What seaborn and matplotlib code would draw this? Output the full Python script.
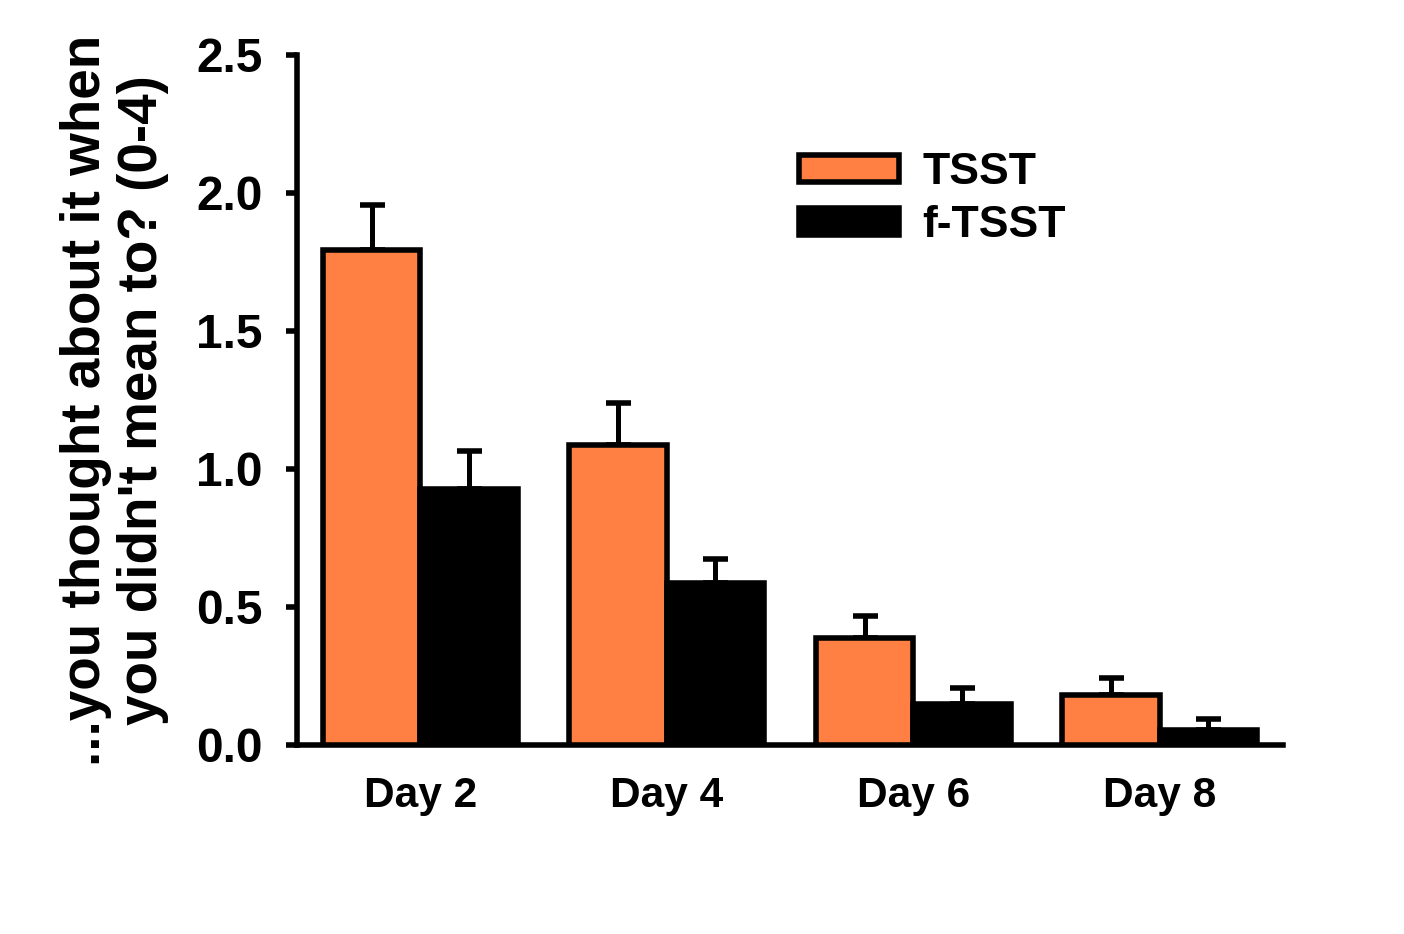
import matplotlib
matplotlib.use("Agg")
import matplotlib.pyplot as plt
import seaborn as sns
import pandas as pd
import numpy as np
from matplotlib.patches import Patch

days = ["Day 2", "Day 4", "Day 6", "Day 8"]
groups = ["TSST", "f-TSST"]
tsst_mean = [1.793, 1.087, 0.388, 0.181]
tsst_sem = [0.164, 0.152, 0.079, 0.062]
ftsst_mean = [0.928, 0.587, 0.149, 0.054]
ftsst_sem = [0.137, 0.087, 0.058, 0.040]
yticks = [0.0, 0.5, 1.0, 1.5, 2.0, 2.5]
ylabel = "...you thought about it when\nyou didn't mean to? (0-4)"

df = pd.DataFrame({
    "day": days * 2,
    "group": [groups[0]] * 4 + [groups[1]] * 4,
    "value": tsst_mean + ftsst_mean,
    "sem": tsst_sem + ftsst_sem,
})

sns.set_theme(style="white")
plt.rcParams["font.family"] = ["Liberation Sans", "DejaVu Sans"]
plt.rcParams["font.weight"] = "bold"
for k in ["text.color", "axes.labelcolor", "xtick.color", "ytick.color", "axes.edgecolor"]:
    plt.rcParams[k] = "black"

ORANGE = "#FF8042"
LW = 4.0

fig = plt.figure(figsize=(14.04, 9.34), dpi=100)
ax = fig.add_axes([297 / 1404, 1 - 745 / 934, (1283 - 297) / 1404, (745 - 55) / 934])

sns.barplot(data=df, x="day", y="value", hue="group", hue_order=groups,
            palette={"TSST": ORANGE, "f-TSST": "black"}, saturation=1,
            width=0.79, gap=0,
            errorbar=None, edgecolor="black", linewidth=LW, ax=ax, legend=False,
            zorder=3)

# error bars (upper only) located from the drawn bars
for patch, (_, row) in zip(ax.patches, df.iterrows()):
    xc = patch.get_x() + patch.get_width() / 2
    top = patch.get_height()
    ax.errorbar(xc, top, yerr=[[0], [row["sem"]]], fmt="none", ecolor="black",
                elinewidth=3.6, capsize=9, capthick=LW, zorder=2)

ax.set_xlim(-0.5, 3.5)
ax.set_ylim(0, 2.5)
ax.set_yticks(yticks)
ax.set_yticklabels([f"{t:.1f}" for t in yticks])
ax.tick_params(axis="y", left=True, length=8, width=LW, pad=17, labelsize=34.5,
               colors="black")
ax.tick_params(axis="x", bottom=False, length=0, pad=22, labelsize=30.5,
               colors="black")
for lab in ax.get_xticklabels() + ax.get_yticklabels():
    lab.set_fontweight("bold")
ax.set_xlabel("")
ax.set_ylabel(ylabel, fontsize=39.5, fontweight="bold", linespacing=1.12,
              color="black")
ax.yaxis.set_label_coords(-0.13, 0.5)

sns.despine(ax=ax)
for s in ["left", "bottom"]:
    ax.spines[s].set_linewidth(LW)
    ax.spines[s].set_color("black")
ax.spines["left"].set_capstyle("projecting")

handles = [Patch(facecolor=ORANGE, edgecolor="black", linewidth=LW, label="TSST"),
           Patch(facecolor="black", edgecolor="black", linewidth=LW, label="f-TSST")]
leg = fig.legend(handles=handles, loc="upper left",
                 bbox_to_anchor=(799 / 1404, 1 - 152 / 934), frameon=False,
                 prop={"family": ["Liberation Sans"], "weight": "bold", "size": 32},
                 handlelength=2.25, handleheight=0.55, handletextpad=0.52,
                 labelspacing=0.28, borderpad=0, borderaxespad=0)
for t in leg.get_texts():
    t.set_color("black")

fig.savefig("out.png", dpi=100)
